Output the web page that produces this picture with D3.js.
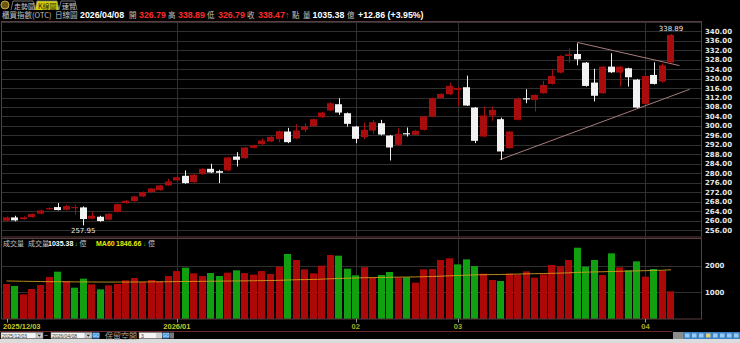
<!DOCTYPE html>
<html>
<head>
<meta charset="utf-8">
<script src="https://cdn.jsdelivr.net/npm/d3@7"></script>
<style>
  body { margin: 0; background: #000; overflow: hidden; }
  svg { display: block; }
</style>
</head>
<body>
<div id="chart"></div>
<script>
// OTC index daily candles, 2025/12/03 - 2026/04/08
const opens = [259.92, 261.33, 260.63, 261.47, 262.88, 264.85, 265.69, 264.56, 265.27, 265.55,
  260.77, 261.61, 260.34, 263.58, 267.38, 268.22, 270.19, 272.02, 272.87, 274.84,
  276.95, 278.92, 276.24, 279.62, 281.87, 280.89, 281.17, 287.08, 286.37, 290.74,
  292.29, 293.41, 294.40, 297.63, 294.68, 298.33, 299.88, 303.68, 306.50, 309.17,
  305.37, 299.74, 295.24, 298.05, 301.15, 295.94, 292.00, 296.93, 296.22, 298.33,
  303.96, 311.70, 313.39, 315.22, 316.35, 307.76, 295.52, 304.39, 302.84, 290.60,
  302.56, 311.70, 311.00, 313.81, 317.75, 322.54, 329.57, 330.42, 326.76, 318.32,
  313.81, 325.07, 322.54, 324.37, 319.58, 309.31, 321.55, 318.74, 326.79];
const highs = [261.75, 262.03, 261.75, 263.02, 264.56, 265.55, 267.38, 266.68, 266.68, 265.97,
  263.72, 262.03, 263.16, 267.24, 268.65, 270.47, 272.30, 273.85, 275.12, 277.65,
  278.92, 281.17, 279.62, 282.15, 283.98, 281.45, 286.94, 288.91, 291.16, 292.00,
  294.68, 295.66, 298.05, 299.18, 300.73, 301.15, 303.12, 305.93, 310.01, 311.70,
  305.65, 300.00, 301.43, 302.56, 302.56, 296.20, 299.04, 299.32, 298.30, 304.30,
  312.00, 313.80, 318.32, 316.63, 321.27, 308.00, 308.19, 308.19, 303.50, 297.90,
  311.98, 315.50, 313.30, 319.02, 323.94, 329.90, 332.81, 334.92, 327.00, 324.17,
  325.30, 330.70, 325.30, 324.60, 319.80, 322.26, 326.90, 326.48, 338.89];
const lows = [259.64, 259.64, 260.34, 261.19, 262.60, 264.56, 264.28, 264.28, 262.46, 257.95,
  260.49, 259.50, 260.06, 263.30, 267.10, 267.94, 269.91, 271.74, 272.59, 274.56,
  276.66, 275.54, 275.96, 279.34, 280.04, 275.82, 280.89, 282.86, 286.09, 290.46,
  292.00, 293.13, 292.99, 292.71, 294.40, 297.35, 299.60, 303.40, 306.21, 304.67,
  299.74, 292.71, 294.40, 296.65, 296.00, 285.39, 291.70, 295.52, 295.90, 298.00,
  303.70, 311.40, 313.10, 308.47, 308.40, 292.71, 295.20, 302.14, 285.68, 290.30,
  302.30, 309.59, 306.07, 313.50, 317.50, 322.20, 326.76, 325.63, 316.60, 310.34,
  313.50, 322.40, 316.63, 316.63, 307.50, 308.89, 317.50, 318.32, 326.79];
const closes = [261.33, 260.06, 261.33, 262.74, 264.28, 265.27, 264.42, 266.11, 265.69, 260.63,
  262.03, 259.78, 262.88, 266.96, 268.36, 270.19, 272.02, 273.57, 274.84, 276.52,
  278.35, 275.82, 279.34, 281.87, 280.32, 280.18, 286.66, 285.67, 290.88, 291.72,
  293.83, 295.38, 297.77, 293.13, 298.05, 299.74, 302.84, 305.65, 309.59, 305.65,
  300.87, 294.54, 298.33, 301.57, 296.36, 290.88, 296.65, 296.50, 297.91, 303.96,
  311.70, 313.53, 316.91, 315.93, 308.61, 293.69, 304.39, 306.78, 289.19, 297.63,
  311.42, 311.50, 313.11, 317.33, 321.13, 329.57, 330.28, 328.17, 316.91, 312.74,
  325.07, 322.68, 325.07, 320.57, 307.76, 321.13, 317.75, 325.61, 338.47];
// volume, 億
const volumes = [1312, 1237, 923, 1124, 1274, 1575, 1776, 1425, 1174, 1512,
  1299, 1111, 1262, 1312, 1450, 1537, 1387, 1462, 1412, 1612,
  1800, 1926, 1713, 1612, 1725, 1612, 1738, 1826, 1725, 1663,
  1800, 1688, 1963, 2440, 2214, 1863, 1713, 2001, 2402, 2377,
  1888, 1638, 1945, 1550, 1650, 1763, 1550, 1563, 1362, 1863,
  1875, 2214, 2277, 2050, 2239, 1988, 1700, 1462, 1425, 1700,
  1663, 1788, 1550, 1675, 2026, 1988, 2214, 2677, 1963, 2214,
  1650, 2465, 1938, 1826, 2164, 1587, 1875, 1813, 1035.38];
const ma60 = [1425, 1420, 1415, 1410, 1405, 1400, 1398, 1395, 1392, 1390,
  1388, 1386, 1385, 1385, 1386, 1388, 1390, 1392, 1395, 1398,
  1402, 1406, 1410, 1413, 1416, 1420, 1423, 1426, 1430, 1434,
  1438, 1443, 1450, 1462, 1472, 1478, 1484, 1494, 1508, 1520,
  1530, 1538, 1548, 1552, 1558, 1564, 1570, 1574, 1578, 1586,
  1594, 1606, 1620, 1632, 1644, 1654, 1662, 1666, 1670, 1678,
  1686, 1694, 1700, 1706, 1714, 1722, 1732, 1748, 1756, 1766,
  1772, 1782, 1790, 1798, 1806, 1812, 1822, 1830, 1846.66];

const priceTicks = [256, 260, 264, 268, 272, 276, 280, 284, 288, 292, 296, 300,
  304, 308, 312, 316, 320, 324, 328, 332, 336, 340];
const volumeTicks = [1000, 2000];
const dateTickIndex = [0, 20, 41, 53, 75];
const dateTickLabels = ["2025/12/03", "2026/01", "02", "03", "04"];
// triangle trend lines: [bar index, price]
const trendUpper = [[67, 335.3], [79.0, 325.5]];
const trendLower = [[57.9, 285.7], [80.2, 315.5]];

const width = 740, height = 343;
const plot = { left: 1.5, right: 701.5, top: 21.5, priceBottom: 237, volTop: 238.5, volBottom: 319 };

const svg = d3.select("#chart").append("svg")
  .attr("width", width).attr("height", height)
  .style("background", "#000");

const x = d3.scaleLinear().domain([0, 78]).range([6.5, 671]);
const step = x(1) - x(0);
const bodyW = step * 0.84;
const y = d3.scaleLinear().domain([256, 340]).range([230.0, 31.3]);
const yv = d3.scaleLinear().domain([0, 3000]).range([318.9, 239.1]);

const cjk = "'Noto Sans CJK TC', sans-serif";
const num = "'Liberation Sans', Arial, sans-serif";
const axisFont = "'DejaVu Sans', sans-serif";

const bars = closes.map((c, i) => ({
  i, o: opens[i], h: highs[i], l: lows[i], c, v: volumes[i],
  volUp: i === 0 || c >= closes[i - 1]
}));

// ---- top tabs ----
const tabs = svg.append("g");
tabs.append("circle").attr("cx", 5).attr("cy", 5).attr("r", 4)
  .attr("fill", "#6a5a10").attr("stroke", "#c8a838").attr("stroke-width", 1);
const tabDefs = [
  { x: 11, w: 23, text: "走勢圖", active: false },
  { x: 35, w: 23, text: "K線圖", active: true },
  { x: 59, w: 17, text: "速覽", active: false }
];
tabs.selectAll("path.tab").data(tabDefs).enter().append("path")
  .attr("class", "tab")
  .attr("d", d => `M${d.x},10 L${d.x + 2},1 L${d.x + d.w - 1},1 L${d.x + d.w + 1},10`)
  .attr("fill", d => d.active ? "#d6d000" : "#000")
  .attr("stroke", "#8a8a8a").attr("stroke-width", 0.8);
tabs.selectAll("text.tab").data(tabDefs).enter().append("text")
  .attr("x", d => d.x + 3).attr("y", 8.5)
  .style("font-family", cjk).style("font-size", "7px")
  .attr("fill", d => d.active ? "#222" : "#c8c8c8")
  .text(d => d.text);

// ---- quote header ----
const header = [
  { x: 2, t: "櫃買指數(OTC)", c: "#c0c0c0", f: cjk, s: 7.5, w: 400 },
  { x: 55, t: "日線圖", c: "#c0c0c0", f: cjk, s: 7.5, w: 400 },
  { x: 80, t: "2026/04/08", c: "#ffffff", f: num, s: 8.8, w: 700 },
  { x: 129, t: "開", c: "#c0c0c0", f: cjk, s: 7.5, w: 400 },
  { x: 139, t: "326.79", c: "#ff2a2a", f: num, s: 8.8, w: 700 },
  { x: 168, t: "高", c: "#c0c0c0", f: cjk, s: 7.5, w: 400 },
  { x: 178, t: "338.89", c: "#ff2a2a", f: num, s: 8.8, w: 700 },
  { x: 207, t: "低", c: "#c0c0c0", f: cjk, s: 7.5, w: 400 },
  { x: 218, t: "326.79", c: "#ff2a2a", f: num, s: 8.8, w: 700 },
  { x: 247, t: "收", c: "#c0c0c0", f: cjk, s: 7.5, w: 400 },
  { x: 258, t: "338.47", c: "#ff2a2a", f: num, s: 8.8, w: 700 },
  { x: 285, t: "↑", c: "#ff2a2a", f: num, s: 8.8, w: 700 },
  { x: 292, t: "點", c: "#c0c0c0", f: cjk, s: 7.5, w: 400 },
  { x: 303, t: "量", c: "#c0c0c0", f: cjk, s: 7.5, w: 400 },
  { x: 312.5, t: "1035.38", c: "#ffffff", f: num, s: 8.8, w: 700 },
  { x: 347, t: "億", c: "#c0c0c0", f: cjk, s: 7.5, w: 400 },
  { x: 358, t: "+12.86 (+3.95%)", c: "#ffffff", f: num, s: 8.8, w: 700 }
];
svg.append("g").selectAll("text").data(header).enter().append("text")
  .attr("x", d => d.x).attr("y", 18)
  .attr("fill", d => d.c)
  .style("font-family", d => d.f).style("font-size", d => d.s + "px")
  .style("font-weight", d => d.w)
  .text(d => d.t);

// ---- price panel ----
const pricePanel = svg.append("g");
pricePanel.selectAll("line.hgrid").data(priceTicks.concat([344])).enter().append("line")
  .attr("x1", plot.left).attr("x2", plot.right)
  .attr("y1", d => Math.round(y(d)) + 0.5).attr("y2", d => Math.round(y(d)) + 0.5)
  .attr("stroke", "#303030").attr("stroke-width", 1);
pricePanel.selectAll("line.vgrid").data(dateTickIndex.slice(1)).enter().append("line")
  .attr("x1", d => Math.round(x(d)) + 0.5).attr("x2", d => Math.round(x(d)) + 0.5)
  .attr("y1", plot.top).attr("y2", plot.priceBottom)
  .attr("stroke", "#303030");
pricePanel.append("rect")
  .attr("x", plot.left).attr("y", plot.top)
  .attr("width", plot.right - plot.left).attr("height", plot.priceBottom - plot.top)
  .attr("fill", "none").attr("stroke", "#5c3c40");

// price axis labels
pricePanel.selectAll("text.ptick").data(priceTicks).enter().append("text")
  .attr("x", 705).attr("y", d => y(d) + 2.5)
  .attr("fill", "#e6e6e6")
  .style("font-family", axisFont).style("font-size", "7px").style("font-weight", 700)
  .text(d => d.toFixed(2));

// trend lines
const trend = d3.line().x(d => x(d[0])).y(d => y(d[1]));
pricePanel.selectAll("path.trend").data([trendUpper, trendLower]).enter().append("path")
  .attr("d", trend).attr("fill", "none")
  .attr("stroke", "#b88a8a").attr("stroke-width", 0.9);

// candles
const candles = pricePanel.selectAll("g.candle").data(bars).enter().append("g");
candles.append("line")
  .attr("x1", d => Math.round(x(d.i)) + 0.5).attr("x2", d => Math.round(x(d.i)) + 0.5)
  .attr("y1", d => y(d.h)).attr("y2", d => y(d.l))
  .attr("stroke", d => d.c >= d.o ? "#a80c0c" : "#f2f2f2").attr("stroke-width", 1);
candles.append("rect")
  .attr("x", d => Math.round(x(d.i) - bodyW / 2))
  .attr("y", d => y(Math.max(d.o, d.c)))
  .attr("width", Math.round(bodyW))
  .attr("height", d => Math.max(1.2, Math.abs(y(d.o) - y(d.c))))
  .attr("fill", d => d.c >= d.o ? "#a80c0c" : "#f2f2f2");

// high / low markers
const hiBar = bars[d3.maxIndex(bars, d => d.h)];
const loBar = bars[d3.minIndex(bars, d => d.l)];
pricePanel.append("text")
  .attr("x", x(hiBar.i)).attr("y", y(hiBar.h) - 2.5)
  .attr("text-anchor", "middle").attr("fill", "#e6e6e6")
  .style("font-family", axisFont).style("font-size", "7px")
  .text(hiBar.h.toFixed(2));
pricePanel.append("text")
  .attr("x", x(loBar.i)).attr("y", y(loBar.l) + 8)
  .attr("text-anchor", "middle").attr("fill", "#e6e6e6")
  .style("font-family", axisFont).style("font-size", "7px")
  .text(loBar.l.toFixed(2));

// ---- volume panel ----
const volPanel = svg.append("g");
volPanel.selectAll("line.hgrid").data(volumeTicks).enter().append("line")
  .attr("x1", plot.left).attr("x2", plot.right)
  .attr("y1", d => Math.round(yv(d)) + 0.5).attr("y2", d => Math.round(yv(d)) + 0.5)
  .attr("stroke", "#303030");
volPanel.selectAll("line.vgrid").data(dateTickIndex.slice(1)).enter().append("line")
  .attr("x1", d => Math.round(x(d)) + 0.5).attr("x2", d => Math.round(x(d)) + 0.5)
  .attr("y1", plot.volTop).attr("y2", plot.volBottom)
  .attr("stroke", "#303030");

volPanel.selectAll("rect.vol").data(bars).enter().append("rect")
  .attr("x", d => Math.round(x(d.i) - bodyW / 2))
  .attr("y", d => yv(d.v))
  .attr("width", Math.round(bodyW))
  .attr("height", d => yv(0) - yv(d.v))
  .attr("fill", d => d.volUp ? "#ac0808" : "#10a010");

volPanel.append("path")
  .datum(ma60)
  .attr("d", d3.line().x((d, i) => x(i)).y(d => yv(d)))
  .attr("fill", "none").attr("stroke", "#d8a020").attr("stroke-opacity", 0.85)
  .attr("stroke-width", 1);

volPanel.append("rect")
  .attr("x", plot.left).attr("y", plot.volTop)
  .attr("width", plot.right - plot.left).attr("height", plot.volBottom - plot.volTop)
  .attr("fill", "none").attr("stroke", "#5c3c40");

volPanel.selectAll("text.vtick").data(volumeTicks).enter().append("text")
  .attr("x", 705).attr("y", d => yv(d) + 2.5)
  .attr("fill", "#e6e6e6")
  .style("font-family", axisFont).style("font-size", "7px").style("font-weight", 700)
  .text(d => d);

const volLegend = [
  { x: 3, t: "成交量", c: "#c0c0c0", f: cjk, w: 400 },
  { x: 28, t: "成交量", c: "#c0c0c0", f: cjk, w: 400 },
  { x: 48, t: volumes[volumes.length - 1].toFixed(2), c: "#ffffff", f: num, w: 700 },
  { x: 74.5, t: "↓", c: "#22c022", f: num, w: 700 },
  { x: 79.5, t: "億", c: "#c0c0c0", f: cjk, w: 400 },
  { x: 96, t: "MA60", c: "#e8e800", f: num, w: 700 },
  { x: 116, t: ma60[ma60.length - 1].toFixed(2), c: "#e8e800", f: num, w: 700 },
  { x: 143, t: "↓", c: "#22c022", f: num, w: 700 },
  { x: 148, t: "億", c: "#c0c0c0", f: cjk, w: 400 }
];
volPanel.selectAll("text.legend").data(volLegend).enter().append("text")
  .attr("x", d => d.x).attr("y", 246)
  .attr("fill", d => d.c)
  .style("font-family", d => d.f).style("font-size", "7px")
  .style("font-weight", d => d.w)
  .text(d => d.t);

// ---- date axis ----
const dateAxis = svg.append("g");
dateAxis.selectAll("line").data(dateTickIndex).enter().append("line")
  .attr("x1", d => Math.round(x(d)) + 0.5).attr("x2", d => Math.round(x(d)) + 0.5)
  .attr("y1", 319).attr("y2", 322.5)
  .attr("stroke", "#9a9a9a");
dateAxis.selectAll("text").data(dateTickIndex).enter().append("text")
  .attr("x", (d, i) => i === 0 ? 3 : x(d))
  .attr("y", 329)
  .attr("text-anchor", (d, i) => i === 0 ? "start" : "middle")
  .attr("fill", (d, i) => i < 2 ? "#c8c828" : "#a8a828")
  .style("font-family", num).style("font-size", "7.5px").style("font-weight", 700)
  .text((d, i) => dateTickLabels[i]);

// ---- bottom control bar ----
const ctrl = svg.append("g");
ctrl.append("line").attr("x1", 0).attr("x2", 672).attr("y1", 331.5).attr("y2", 331.5)
  .attr("stroke", "#6a2a2a");
ctrl.append("rect").attr("x", 0).attr("y", 339).attr("width", width).attr("height", 4)
  .attr("fill", "#dcdcdc");
const inputs = [
  { x: 1, w: 42, t: "2025/12/03" },
  { x: 51, w: 41, t: "2026/04/08" }
];
inputs.forEach(d => {
  ctrl.append("rect").attr("x", d.x).attr("y", 332.5).attr("width", d.w).attr("height", 6)
    .attr("fill", "#f4f4f4").attr("stroke", "#888").attr("stroke-width", 0.5);
  ctrl.append("text").attr("x", d.x + 1).attr("y", 337.6).attr("fill", "#333")
    .style("font-family", num).style("font-size", "5px").text(d.t);
  ctrl.append("rect").attr("x", d.x + d.w - 7).attr("y", 333).attr("width", 6.5).attr("height", 5)
    .attr("fill", "#d0d0d0").attr("stroke", "#777").attr("stroke-width", 0.4);
  ctrl.append("path").attr("d", `M${d.x + d.w - 5.5},334.8 L${d.x + d.w - 2},334.8 L${d.x + d.w - 3.75},336.8 Z`)
    .attr("fill", "#222");
});
ctrl.append("text").attr("x", 44).attr("y", 338).attr("fill", "#bbb")
  .style("font-family", num).style("font-size", "7px").text("~");
[92.5, 162.5].forEach(bx => {
  ctrl.append("rect").attr("x", bx).attr("y", 332.5).attr("width", 7).attr("height", 6)
    .attr("fill", "#4a90d8");
  ctrl.append("text").attr("x", bx + 3.5).attr("y", 337.3).attr("text-anchor", "middle")
    .attr("fill", "#d8ecff").style("font-family", num).style("font-size", "4.5px").text("GO");
});
ctrl.append("text").attr("x", 105).attr("y", 338.5).attr("fill", "#a8a8a8")
  .style("font-family", cjk).style("font-size", "8px").text("保留空間");
ctrl.append("rect").attr("x", 139).attr("y", 332.5).attr("width", 23).attr("height", 6)
  .attr("fill", "#f4f4f4").attr("stroke", "#888").attr("stroke-width", 0.5);
ctrl.append("text").attr("x", 141).attr("y", 337.6).attr("fill", "#333")
  .style("font-family", num).style("font-size", "5px").text("3");
ctrl.append("rect").attr("x", 156).attr("y", 333).attr("width", 5.5).attr("height", 5)
  .attr("fill", "#d0d0d0");
ctrl.append("rect").attr("x", 170).attr("y", 332.5).attr("width", 4).attr("height", 6)
  .attr("fill", "#777");

// right toolbar
ctrl.append("rect").attr("x", 673).attr("y", 332).attr("width", 10).attr("height", 7)
  .attr("fill", "#8c8c8c");
ctrl.append("rect").attr("x", 683).attr("y", 332).attr("width", 57).attr("height", 7)
  .attr("fill", "#3c80c8");
d3.range(8).forEach(k => {
  ctrl.append("rect").attr("x", 685 + k * 7).attr("y", 333.5).attr("width", 4.5).attr("height", 4)
    .attr("fill", k === 3 ? "#ffe060" : "#a8d8f8").attr("opacity", 0.85);
});
</script>
</body>
</html>
